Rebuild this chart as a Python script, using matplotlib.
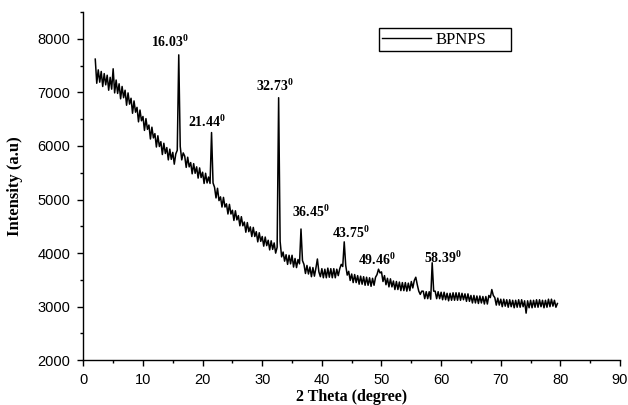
import numpy as np
import matplotlib
matplotlib.use("Agg")
import matplotlib.pyplot as plt
from matplotlib.ticker import MultipleLocator

# ---- data ----
two_theta_start = 2.0
two_theta_step = 0.25
intensity = [
    # each row: d.00, d.25, d.50, d.75
    7620, 7170, 7420, 7190,   # 2
    7390, 7110, 7350, 7140,   # 3
    7320, 7040, 7280, 7060,   # 4
    7440, 6990, 7230, 6980,   # 5
    7160, 6880, 7110, 6900,   # 6
    7040, 6760, 6990, 6780,   # 7
    6890, 6610, 6840, 6630,   # 8
    6720, 6450, 6670, 6470,   # 9
    6550, 6290, 6510, 6310,   # 10
    6390, 6130, 6350, 6150,   # 11
    6230, 5980, 6190, 5990,   # 12
    6080, 5840, 6050, 5860,   # 13
    5970, 5740, 5940, 5750,   # 14
    5880, 5660, 5850, 5920,   # 15
    7700, 5990, 5740, 5870,   # 16
    5810, 5600, 5790, 5610,   # 17
    5690, 5480, 5670, 5490,   # 18
    5610, 5400, 5590, 5410,   # 19
    5510, 5300, 5490, 5310,   # 20
    5420, 5300, 6250, 5310,   # 21
    5230, 5030, 5210, 4980,   # 22
    5050, 4860, 5040, 4860,   # 23
    4920, 4730, 4910, 4730,   # 24
    4800, 4610, 4790, 4620,   # 25
    4700, 4510, 4680, 4510,   # 26
    4580, 4390, 4570, 4400,   # 27
    4490, 4310, 4480, 4310,   # 28
    4400, 4210, 4380, 4220,   # 29
    4310, 4130, 4300, 4140,   # 30
    4240, 4060, 4230, 4070,   # 31
    4190, 4000, 4110, 6900,   # 32
    4220, 3930, 4020, 3850,   # 33
    3970, 3790, 3960, 3800,   # 34
    3960, 3740, 3900, 3730,   # 35
    3880, 3800, 4450, 3860,   # 36
    3790, 3620, 3770, 3610,   # 37
    3740, 3560, 3730, 3570,   # 38
    3720, 3890, 3650, 3560,   # 39
    3710, 3540, 3700, 3540,   # 40
    3720, 3550, 3710, 3540,   # 41
    3710, 3540, 3700, 3580,   # 42
    3710, 3790, 3750, 4210,   # 43
    3770, 3590, 3660, 3490,   # 44
    3610, 3450, 3600, 3450,   # 45
    3580, 3420, 3570, 3420,   # 46
    3560, 3400, 3550, 3400,   # 47
    3540, 3380, 3530, 3400,   # 48
    3550, 3600, 3700, 3630,   # 49
    3650, 3470, 3580, 3410,   # 50
    3530, 3370, 3520, 3370,   # 51
    3480, 3320, 3470, 3320,   # 52
    3460, 3300, 3450, 3300,   # 53
    3450, 3290, 3440, 3300,   # 54
    3470, 3350, 3490, 3550,   # 55
    3410, 3290, 3230, 3290,   # 56
    3290, 3150, 3280, 3150,   # 57
    3280, 3140, 3820, 3290,   # 58
    3290, 3150, 3280, 3150,   # 59
    3270, 3130, 3270, 3130,   # 60
    3250, 3110, 3250, 3120,   # 61
    3260, 3120, 3260, 3120,   # 62
    3260, 3120, 3250, 3130,   # 63
    3240, 3100, 3240, 3100,   # 64
    3210, 3070, 3210, 3070,   # 65
    3200, 3060, 3200, 3070,   # 66
    3190, 3050, 3190, 3050,   # 67
    3210, 3170, 3320, 3210,   # 68
    3170, 3030, 3160, 3030,   # 69
    3140, 3000, 3140, 3010,   # 70
    3130, 2990, 3130, 3000,   # 71
    3120, 2980, 3120, 2990,   # 72
    3130, 2990, 3130, 3000,   # 73
    3110, 2880, 3110, 2980,   # 74
    3120, 2980, 3120, 2990,   # 75
    3130, 2990, 3130, 3000,   # 76
    3120, 2980, 3120, 2990,   # 77
    3140, 3000, 3140, 3010,   # 78
    3120, 2990, 3060,         # 79
]
two_theta = two_theta_start + two_theta_step * np.arange(len(intensity))

peak_labels = ["16.03", "21.44", "32.73", "36.45", "43.75", "49.46", "58.39"]
label_x = [14.6, 20.8, 32.2, 38.2, 44.9, 49.3, 60.3]
label_y = [7850, 6350, 7030, 4670, 4280, 3780, 3810]

series_name = "BPNPS"
xticks = [0, 10, 20, 30, 40, 50, 60, 70, 80, 90]
yticks = [2000, 3000, 4000, 5000, 6000, 7000, 8000]

# ---- style ----
plt.rcParams["mathtext.fontset"] = "custom"
plt.rcParams["mathtext.rm"] = "Liberation Serif"
plt.rcParams["mathtext.bf"] = "Liberation Serif:bold"

fig = plt.figure(figsize=(6.28, 4.05), dpi=100)
ax = fig.add_axes([0.1327, 0.1104, 0.8546, 0.8600])

ax.plot(two_theta, intensity, color="black", lw=1.1, label=series_name)

ax.set_xlim(0, 90)
ax.set_ylim(2000, 8500)
ax.set_xticks(xticks)
ax.set_yticks(yticks)
ax.xaxis.set_minor_locator(MultipleLocator(5))
ax.yaxis.set_minor_locator(MultipleLocator(500))

for s in ["top", "right"]:
    ax.spines[s].set_visible(False)
for s in ["left", "bottom"]:
    ax.spines[s].set_linewidth(1.0)

ax.tick_params(which="major", direction="out", length=4.5, width=1.0,
               labelsize=10.5, pad=5)
ax.tick_params(which="minor", direction="out", length=2.5, width=1.0)
for lab in ax.get_xticklabels() + ax.get_yticklabels():
    lab.set_fontfamily("Liberation Sans")

ax.set_xlabel("2 Theta (degree)", fontfamily="Liberation Serif",
              fontweight="bold", fontsize=11.5, labelpad=1)
ax.set_ylabel("Intensity (a.u)", fontfamily="Liberation Serif",
              fontweight="bold", fontsize=12, labelpad=10)

for t, x, y in zip(peak_labels, label_x, label_y):
    ax.text(x, y, r"$\mathbf{" + t + r"}^{\mathbf{0}}$", ha="center",
            va="baseline", fontsize=10)

leg = ax.legend(loc="lower left", bbox_to_anchor=(0.551, 0.888, 0.246, 0.063),
                mode="expand", borderaxespad=0, fancybox=False,
                edgecolor="black", framealpha=1, handlelength=2.9,
                handletextpad=0.3, borderpad=0.2,
                prop={"family": "Liberation Serif", "size": 12})
leg.get_frame().set_linewidth(1.0)
for h in leg.get_lines():
    h.set_linewidth(1.0)

fig.savefig("out.png", dpi=100)
